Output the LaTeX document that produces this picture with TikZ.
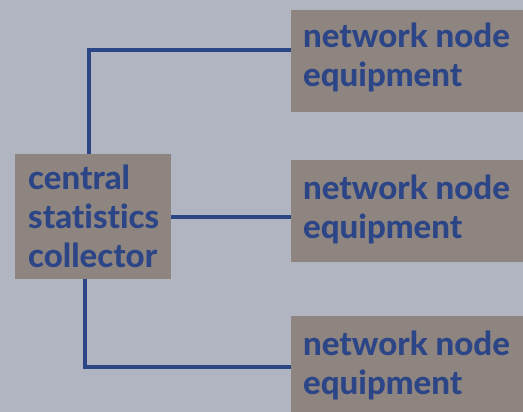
\documentclass[tikz,border=0pt]{standalone}
\usepackage{fontspec}
\setmainfont{Lato}[Ligatures={NoCommon}, BoldFont={Lato Heavy}]
\definecolor{bgc}{RGB}{177,181,193}
\definecolor{boxc}{RGB}{142,133,128}
\definecolor{bluec}{RGB}{44,69,135}
\begin{document}
\begin{tikzpicture}[x=1pt,y=-1pt,
  box/.style={fill=boxc, draw=none, inner sep=0pt, anchor=north west},
  txt/.style={text=bluec, font=\fontsize{33}{39}\selectfont\bfseries, inner sep=0pt, anchor=base west, align=left},
  wire/.style={draw=bluec, line width=4.2pt, line join=miter, line cap=butt}]
\fill[bgc] (0,0) rectangle (523,412);
\useasboundingbox (0,0) rectangle (523,412);
\clip (0,0) rectangle (523,412);
\node[box, minimum width=156pt, minimum height=125pt] (c) at (15,154) {};
\node[box, minimum width=240pt, minimum height=102pt] (n1) at (291,10) {};
\node[box, minimum width=240pt, minimum height=102pt] (n2) at (291,160) {};
\node[box, minimum width=240pt, minimum height=102pt] (n3) at (291,316) {};
\node[txt] (tc) at (28,267) {central\\statistics\\collector};
\node[txt] (t1) at (303,86.5) {network node\\equipment};
\node[txt] (t2) at (303,238) {network node\\equipment};
\node[txt] (t3) at (303,394) {network node\\equipment};
\coordinate (a1) at (88.7,50);
\coordinate (a3) at (85,366.7);
\draw[wire] (c.north -| a1) -- (a1) -- (n1.west |- a1);
\draw[wire] (c.east |- 0,216.7) -- (n2.west |- 0,216.7);
\draw[wire] (c.south -| a3) -- (a3) -- (n3.west |- a3);
\end{tikzpicture}
\end{document}
